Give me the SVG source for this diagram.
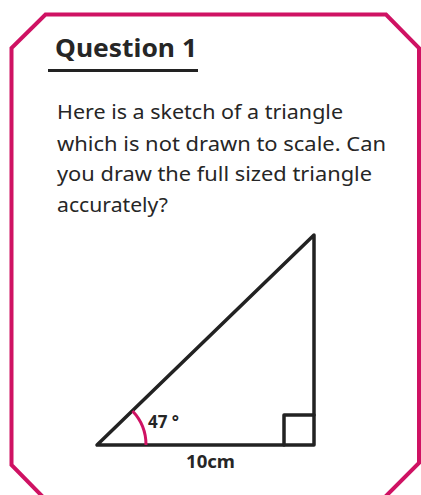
<svg xmlns="http://www.w3.org/2000/svg" width="421" height="495" viewBox="0 0 421 495">
<style>
.t{font-family:"Noto Sans","Open Sans",sans-serif;fill:#262626}
.body{font-size:20px}
.bold{font-weight:bold}
.ln{stroke:#222;stroke-width:3.5;fill:none;stroke-linecap:round;stroke-linejoin:round}
</style>
<rect width="421" height="495" fill="#fff"/>
<g id="frame">
<path d="M43,497 L11.5,465 L11.5,48 L45.5,14.5 L386,14.5 L419,48 L419,463 L385,497" fill="none" stroke="#cf1263" stroke-width="4"/>
</g>
<g id="title">
<text class="t bold" x="55" y="57" font-size="25" textLength="142" lengthAdjust="spacingAndGlyphs">Question 1</text>
<line x1="48" y1="70.5" x2="198" y2="70.5" stroke="#222" stroke-width="3"/>
</g>
<g id="question">
<text class="t body" x="57" y="119" textLength="286" lengthAdjust="spacingAndGlyphs">Here is a sketch of a triangle</text>
<text class="t body" x="57" y="151" textLength="329" lengthAdjust="spacingAndGlyphs">which is not drawn to scale. Can</text>
<text class="t body" x="57" y="181" textLength="315" lengthAdjust="spacingAndGlyphs">you draw the full sized triangle</text>
<text class="t body" x="57" y="212" textLength="111" lengthAdjust="spacingAndGlyphs">accurately?</text>
</g>
<g id="triangle">
<path class="ln" d="M97,445 L314,445 L314,235 Z"/>
<path class="ln" d="M284,445 L284,415 L314,415"/>
<path d="M132.5,411 A49,49 0 0 1 146,445" fill="none" stroke="#cf1263" stroke-width="3"/>
<text class="t bold" x="148" y="428" font-size="17">47 °</text>
<text class="t bold" x="186" y="468" font-size="18" textLength="49" lengthAdjust="spacingAndGlyphs">10cm</text>
</g>
</svg>
